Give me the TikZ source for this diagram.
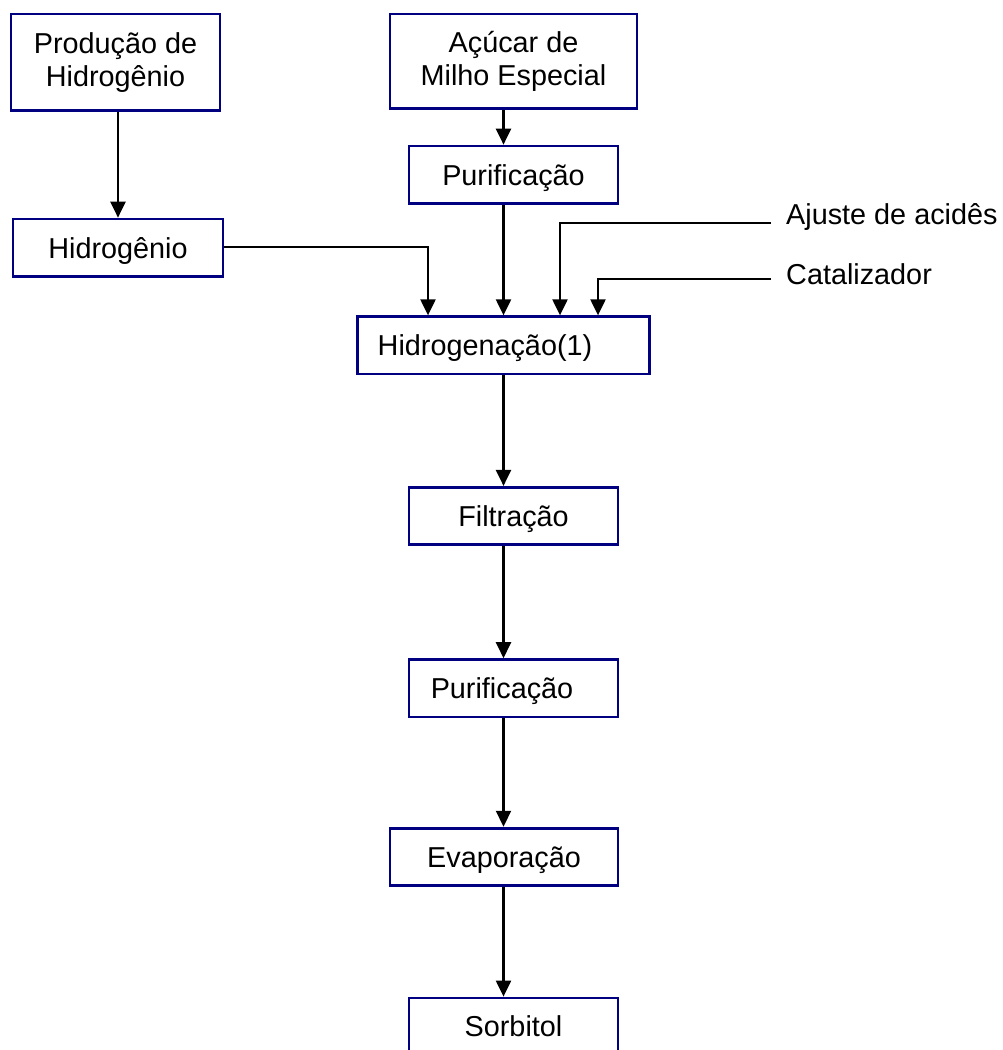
\documentclass[tikz,border=0pt]{standalone}
\usepackage{fontspec}
\setmainfont{Liberation Sans}
\usetikzlibrary{arrows.meta}
\definecolor{boxblue}{RGB}{0,0,128}
\begin{document}
\begin{tikzpicture}[x=1pt,y=1pt,
  font=\fontsize{28.8}{33.4}\selectfont,
  stepbox/.style={draw=boxblue, line width=2.8pt, fill=white, inner sep=0pt,
    text height=20.6pt, text depth=0pt},
  twobox/.style={draw=boxblue, line width=2.8pt, fill=white, inner sep=0pt, align=center},
  arr/.style={line width=2.2pt, -{Triangle[width=15pt,length=16pt]}},
  feed/.style={anchor=base west, inner sep=0pt}]
\clip (0,0) rectangle (1003,-1050);
\fill[white] (0,0) rectangle (1003,-1050);
\node[twobox, minimum width=209, minimum height=96.7] (prod) at (115.5,-62.3) {Produção de\\Hidrogênio};
\node[twobox, minimum width=247, minimum height=94.7] (acu) at (513.5,-61.3) {Açúcar de\\Milho Especial};
\node[stepbox, minimum width=209, minimum height=57.7] (pur1) at (513.5,-174.9) {Purificação};
\node[stepbox, minimum width=210, minimum height=57.7] (hid) at (118,-247.9) {Hidrogênio};
\node[stepbox, minimum width=292, minimum height=57.3] (hgen) at (503.5,-345.4) {Hidrogenação(1)\hspace*{37pt}};
\node[stepbox, minimum width=209, minimum height=57.4] (filt) at (513.5,-516) {Filtração};
\node[stepbox, minimum width=209, minimum height=57.4] (pur2) at (513.5,-688.3) {Purificação\hspace*{23pt}};
\node[stepbox, minimum width=228, minimum height=57.1] (evap) at (504,-856.7) {Evaporação};
\node[stepbox, minimum width=209, minimum height=57] (sorb) at (513.5,-1026.5) {Sorbitol};
\node[feed] (aj) at (786,-224.6) {Ajuste de acidês};
\node[feed] (cat) at (786,-284.7) {Catalizador};
% connectors
\draw[arr] (prod.south -| hid) -- (hid.north);
\draw[arr] (acu.south -| hgen) -- (pur1.north -| hgen);
\draw[arr] (pur1.south -| hgen) -- (hgen.north);
\draw[arr] ([yshift=0.6pt]hid.east) -| ([xshift=-75.5pt]hgen.north);
\draw[arr] ([shift={(-15pt,1.9pt)}]aj.base west) -| ([xshift=56.5pt]hgen.north);
\draw[arr] ([shift={(-15pt,5.4pt)}]cat.base west) -| ([xshift=94.5pt]hgen.north);
\draw[arr] (hgen.south) -- (filt.north -| hgen);
\draw[arr] (filt.south -| hgen) -- (pur2.north -| hgen);
\draw[arr] (pur2.south -| hgen) -- (evap.north -| hgen);
\draw[arr] (evap.south -| hgen) -- (sorb.north -| hgen);
\end{tikzpicture}
\end{document}
